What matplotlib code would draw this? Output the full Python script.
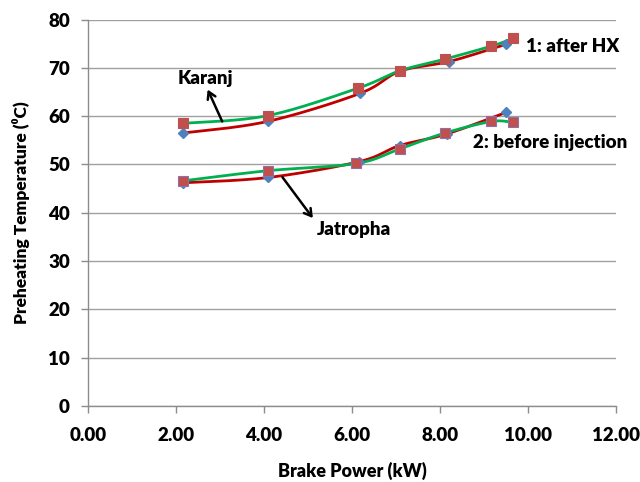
import numpy as np
import matplotlib
matplotlib.use("Agg")
import matplotlib.pyplot as plt

plt.rcParams['font.family'] = ['Lato', 'DejaVu Sans']

# Karanj
kar_hx_x = [2.16, 4.08, 6.18, 7.09, 8.21, 9.51]
kar_hx_y = [56.5, 58.9, 64.7, 69.3, 71.3, 74.9]
kar_inj_x = [2.16, 4.08, 6.14, 7.09, 8.11, 9.17, 9.67]
kar_inj_y = [58.5, 60.1, 65.8, 69.4, 71.8, 74.5, 76.1]
# Jatropha
jat_hx_x = [2.16, 4.10, 6.17, 7.08, 8.15, 9.51]
jat_hx_y = [46.2, 47.3, 50.6, 53.9, 56.3, 60.8]
jat_inj_x = [2.16, 4.08, 6.10, 7.08, 8.11, 9.17, 9.65]
jat_inj_y = [46.6, 48.7, 50.2, 53.2, 56.5, 58.9, 58.7]

x_ticks = [0, 2, 4, 6, 8, 10, 12]
y_ticks = [0, 10, 20, 30, 40, 50, 60, 70, 80]


def smooth(x, y, n=30):
    """Excel-like smoothed line (cubic Bezier with Catmull-Rom control points)."""
    x = np.asarray(x, float); y = np.asarray(y, float)
    P = np.column_stack([x, y])
    out = []
    t = np.linspace(0, 1, n)
    for i in range(len(P) - 1):
        p0 = P[i - 1] if i > 0 else P[i]
        p1 = P[i]; p2 = P[i + 1]
        p3 = P[i + 2] if i + 2 < len(P) else P[i + 1]
        c1 = p1 + (p2 - p0) / 6.0
        c2 = p2 - (p3 - p1) / 6.0
        seg = ((1 - t) ** 3)[:, None] * p1 + (3 * (1 - t) ** 2 * t)[:, None] * c1 \
            + (3 * (1 - t) * t ** 2)[:, None] * c2 + (t ** 3)[:, None] * p2
        out.append(seg if i == 0 else seg[1:])
    c = np.vstack(out)
    return c[:, 0], c[:, 1]


RED = '#C00000'
GREEN = '#00B050'
BLUE = '#4F81BD'
SQ = '#C0504D'
W = 'heavy'

fig = plt.figure(figsize=(6.4, 4.82), dpi=100)
ax = fig.add_axes([0.1375, 0.1577, 0.825, 0.8018])

for (xd, yd, xs, ys, sq_edge) in [
        (kar_hx_x, kar_hx_y, kar_inj_x, kar_inj_y, SQ),
        (jat_hx_x, jat_hx_y, jat_inj_x, jat_inj_y, '#9070A8')]:
    sx, sy = smooth(xd, yd)
    ax.plot(sx, sy, color=RED, lw=2.0, zorder=3, solid_capstyle='round')
    gx, gy = smooth(xs, ys)
    ax.plot(gx, gy, color=GREEN, lw=2.0, zorder=3, solid_capstyle='round')
    ax.plot(xd, yd, linestyle='none', marker='D', ms=5.5, color=BLUE,
            mec=BLUE, zorder=4)
    ax.plot(xs, ys, linestyle='none', marker='s', ms=7.5, color=SQ,
            mec=sq_edge, mew=0.8, zorder=5)

ax.set_xlim(0, 12)
ax.set_ylim(0, 80)
ax.set_xticks(x_ticks)
ax.set_xticklabels([f"{v:.2f}" for v in x_ticks])
ax.set_yticks(y_ticks)
ax.set_yticklabels([str(v) for v in y_ticks])
ax.yaxis.grid(True, color='#A0A0A0', lw=1.0)
ax.set_axisbelow(True)
for s in ['top', 'right']:
    ax.spines[s].set_visible(False)
for s in ['left', 'bottom']:
    ax.spines[s].set_color('#8C8C8C')
    ax.spines[s].set_linewidth(1.0)
ax.tick_params(axis='both', colors='#8C8C8C', length=5, width=1.0,
               labelcolor='black', labelsize=13.5)
ax.tick_params(axis='x', pad=10)
ax.tick_params(axis='y', pad=8)
for lab in ax.get_xticklabels() + ax.get_yticklabels():
    lab.set_fontweight(W)

ax.set_xlabel('Brake Power (kW)', fontsize=13, fontweight=W, labelpad=13)
ax.set_ylabel('Preheating Temperature (\u2070C)', fontsize=12.5,
              fontweight=W, labelpad=13)

tkw = dict(fontsize=13.5, fontweight=W, color='black')
ax.text(2.67, 67.8, 'Karanj', ha='center', va='center', **tkw)
ax.text(6.05, 36.6, 'Jatropha', ha='center', va='center', **tkw)
ax.text(9.95, 74.4, '1: after HX', ha='left', va='center', **tkw)
ax.text(8.75, 54.5, '2: before injection', ha='left', va='center', **tkw)

akw = dict(arrowstyle='->,head_length=0.5,head_width=0.3', color='black', lw=1.8,
           shrinkA=0, shrinkB=0)
ax.annotate('', xy=(2.72, 65.5), xytext=(3.05, 58.9), arrowprops=akw)
ax.annotate('', xy=(5.11, 38.9), xytext=(4.42, 47.35), arrowprops=akw)

fig.savefig('out.png', dpi=100)
